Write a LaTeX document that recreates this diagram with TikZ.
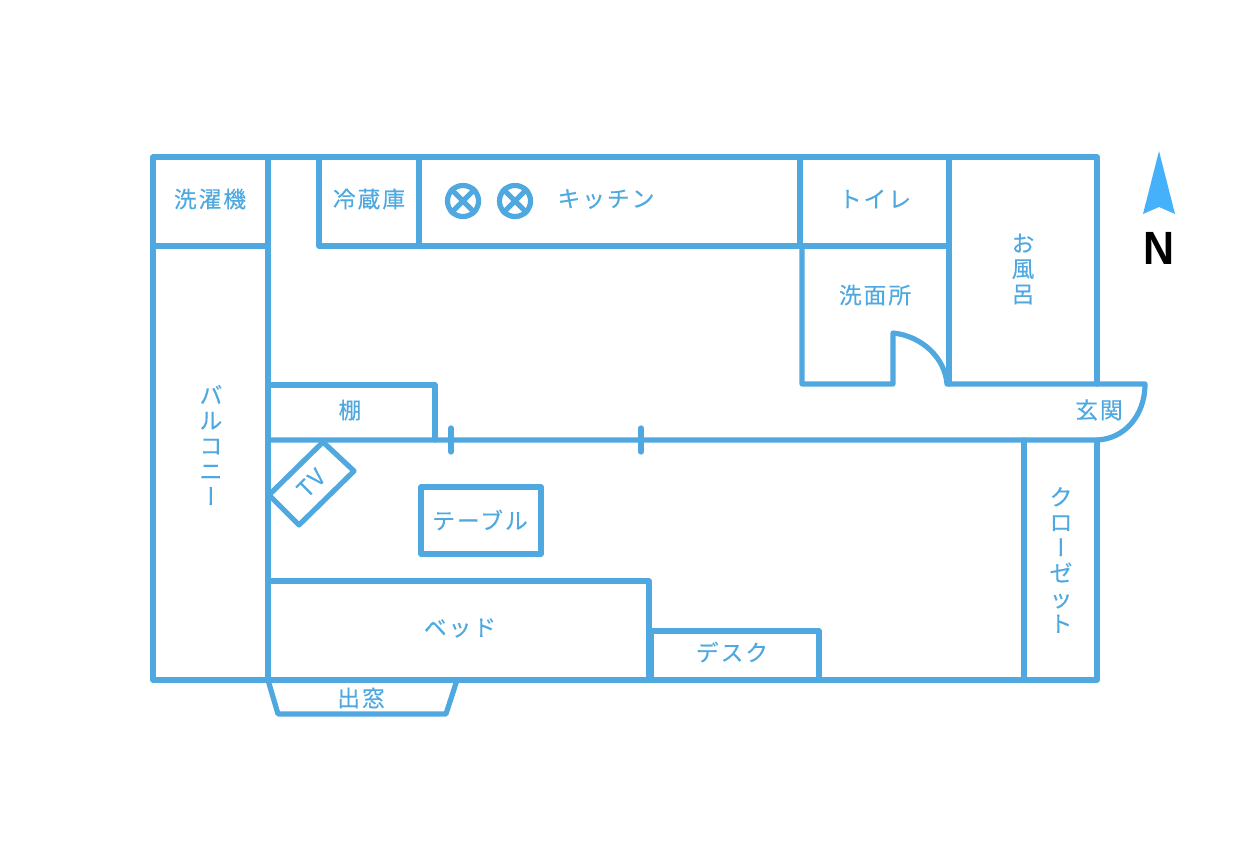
\documentclass[tikz,border=0pt]{standalone}
\usepackage{fontspec}
\newfontfamily\jp[LetterSpace=9,FakeBold=0.35]{Noto Sans CJK JP}
\newfontfamily\jpv[RawFeature=+vert,FakeBold=0.35]{Noto Sans CJK JP}
\newfontfamily\nfont{Liberation Sans}
\newcommand{\vbar}{{\jpv ー}}
\definecolor{wall}{HTML}{4FA9E0}
\definecolor{needle}{HTML}{45B1FB}
\tikzset{
  wallline/.style={draw=wall,line width=3.9pt,line join=round,line cap=round},
  lbl/.style={text=wall,font=\jp\fontsize{17}{19}\selectfont,inner sep=0pt,align=center},
  lblv/.style={text=wall,font=\jp\fontsize{17}{19}\selectfont,inner sep=0pt,align=center},
  burner/.style={circle,draw=wall,line width=3.9pt,minimum size=23.3pt,inner sep=0pt}
}
\begin{document}
\begin{tikzpicture}[x=0.75pt,y=-0.75pt]
\useasboundingbox (0,0) rectangle (1252,866);
% outer and rooms
\draw[wallline] (153,157) -- (1097,157) -- (1097,384);
\draw[wallline] (153,157) -- (153,680) -- (1097,680) -- (1097,440);
\draw[wallline] (153,246) -- (268,246);
\draw[wallline] (268,157) -- (268,680);
\draw[wallline] (319,157) -- (319,246) -- (800,246) -- (800,157);
\draw[wallline] (419,157) -- (419,246);
\draw[wallline] (800,246) -- (949,246);
\draw[wallline] (949,157) -- (949,384);
% washroom with door
\draw[wallline] (802,246) -- (802,384) -- (893,384) -- (893,333)
  .. controls (922,336) and (945,358) .. (947,384) -- (1145,384)
  .. controls (1145,416) and (1124,439) .. (1097,440) -- (268,440);
% ticks
\draw[wallline] (451,428) -- (451,452);
\draw[wallline] (641,428) -- (641,452);
% shelf
\draw[wallline] (268,385) -- (435,385) -- (435,440);
% TV
\draw[wallline] (269,495) -- (323,442) -- (354,471) -- (299,525) -- cycle;
% table
\draw[wallline] (421,487) rectangle (541,554);
% bed and desk
\draw[wallline] (268,581) -- (649,581) -- (649,680);
\draw[wallline] (651,631) -- (819,631) -- (819,680);
\draw[wallline] (651,631) -- (651,680);
% closet
\draw[wallline] (1024,440) -- (1024,680);
% bay window
\draw[wallline] (268,680) -- (278,714) -- (446,714) -- (457,680);
% burners
\node[burner] (b1) at (463,201) {};
\draw[wallline,line cap=butt] (b1.45) -- (b1.225);
\draw[wallline,line cap=butt] (b1.135) -- (b1.315);
\node[burner] (b2) at (515,201) {};
\draw[wallline,line cap=butt] (b2.45) -- (b2.225);
\draw[wallline,line cap=butt] (b2.135) -- (b2.315);
% north
\fill[needle] (1159,151) -- (1175,214) -- (1159,207) -- (1143,214) -- cycle;
\node[inner sep=0pt,xscale=0.92,font=\nfont\bfseries\fontsize{35}{35}\selectfont] (north) at (1159,248) {N};
% labels
\node[lbl] (l1) at (210,199) {洗濯機};
\node[lbl] (l2) at (369,199) {冷蔵庫};
\node[lbl] (l3) at (606,199) {キッチン};
\node[lbl] (l4) at (875,199) {トイレ};
\node[lbl] (l5) at (875,295) {洗面所};
\node[lblv] (l6) at (1023,269) {お\\風\\呂};
\node[lbl] (l7) at (350,410) {棚};
\node[lbl] (l8) at (1099,410) {玄関};
\node[lblv] (l9) at (211,445) {バ\\ル\\コ\\ニ\\\vbar};
\node[lblv] (l10) at (1061,560) {ク\\ロ\\\vbar\\ゼ\\ッ\\ト};
\node[lbl] (l11) at (480,520) {テーブル};
\node[lbl] (l12) at (460,628) {ベッド};
\node[lbl] (l13) at (732,652) {デスク};
\node[lbl] (l14) at (361,698) {出窓};
\node[lbl,rotate=45] (l15) at (311,483) {TV};
\end{tikzpicture}
\end{document}
